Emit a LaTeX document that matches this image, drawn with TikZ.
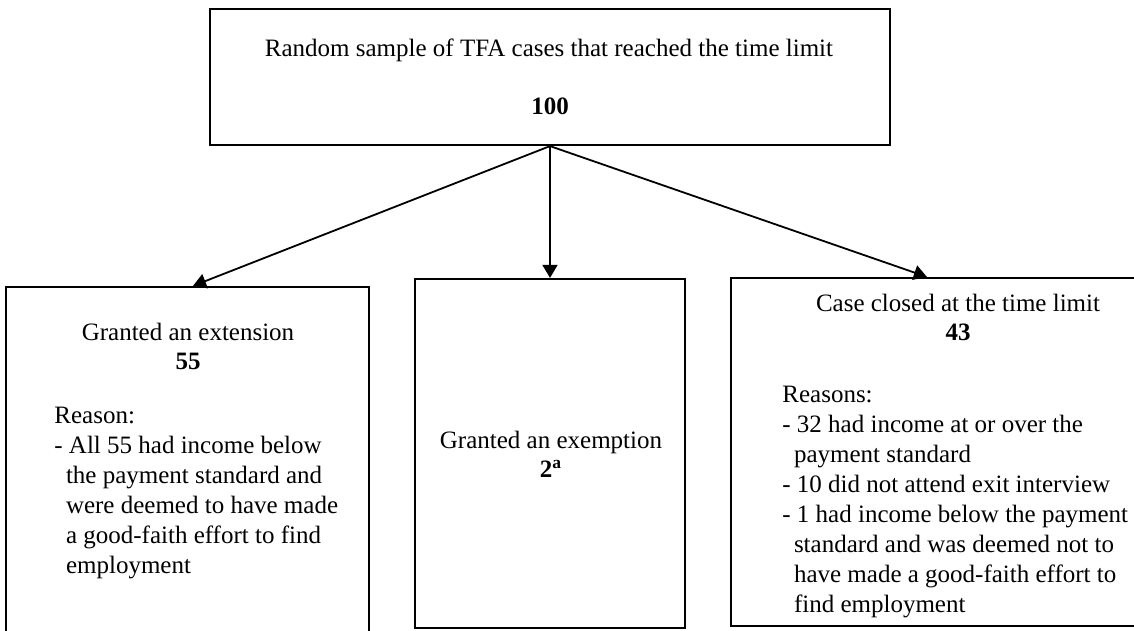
\documentclass[tikz,border=0pt]{standalone}
\usepackage{fontspec}
\setmainfont{Liberation Serif}
\usetikzlibrary{arrows.meta,fit}
\begin{document}
\begin{tikzpicture}[x=0.5pt,y=-0.5pt,
  box/.style={draw, line width=1.1pt, inner sep=0pt},
  txt/.style={inner sep=0pt, anchor=base, font=\fontsize{12.5}{15}\selectfont},
  blk/.style={inner sep=0pt, anchor=base west, font=\fontsize{12.5}{15}\selectfont},
  conn/.style={line width=0.9pt, -{Triangle[length=6.5pt,width=7.5pt]}}]
\clip (0,0) rectangle (1134,631);
\fill[white] (0,0) rectangle (1134,631);
% boxes
\node[box, fit={(210,9) (890,145)}] (top) {};
\node[box, fit={(6,287) (369,660)}] (ext) {};
\node[box, fit={(415,279) (685,628)}] (exm) {};
\node[box, fit={(731,278) (1160,626)}] (clo) {};
% top texts
\node[txt] (t1) at (549,57) {Random sample of TFA cases that reached the time limit};
\node[txt] (t2) at (550,115) {\bfseries 100};
% left box
\node[txt] (e1) at (188,340) {Granted an extension};
\node[txt] (e2) at (188,369) {\bfseries 55};
\node[blk] (e3) at (54,423) {\parbox[t]{155pt}{\raggedright Reason:\\
- All 55 had income below\\
\hspace*{5.8pt}the payment standard and\\
\hspace*{5.8pt}were deemed to have made\\
\hspace*{5.8pt}a good-faith effort to find\\
\hspace*{5.8pt}employment}};
% middle box
\node[txt] (x1) at (551,448) {Granted an exemption};
\node[txt] (x2) at (551,477) {\bfseries 2\textsuperscript{a}};
% right box
\node[txt] (c1) at (958,311) {Case closed at the time limit};
\node[txt] (c2) at (958,340) {\bfseries 43};
\node[blk] (c3) at (782,402) {\parbox[t]{175pt}{\raggedright Reasons:\\
- 32 had income at or over the\\
\hspace*{5.8pt}payment standard\\
- 10 did not attend exit interview\\
- 1 had income below the payment\\
\hspace*{5.8pt}standard and was deemed not to\\
\hspace*{5.8pt}have made a good-faith effort to\\
\hspace*{5.8pt}find employment}};
% connectors
\draw[conn] (top.south) -- ([xshift=2.75pt]ext.north);
\draw[conn] (top.south) -- (exm.north);
\draw[conn] (top.south) -- ([xshift=98.5pt]clo.north west);
\end{tikzpicture}
\end{document}
